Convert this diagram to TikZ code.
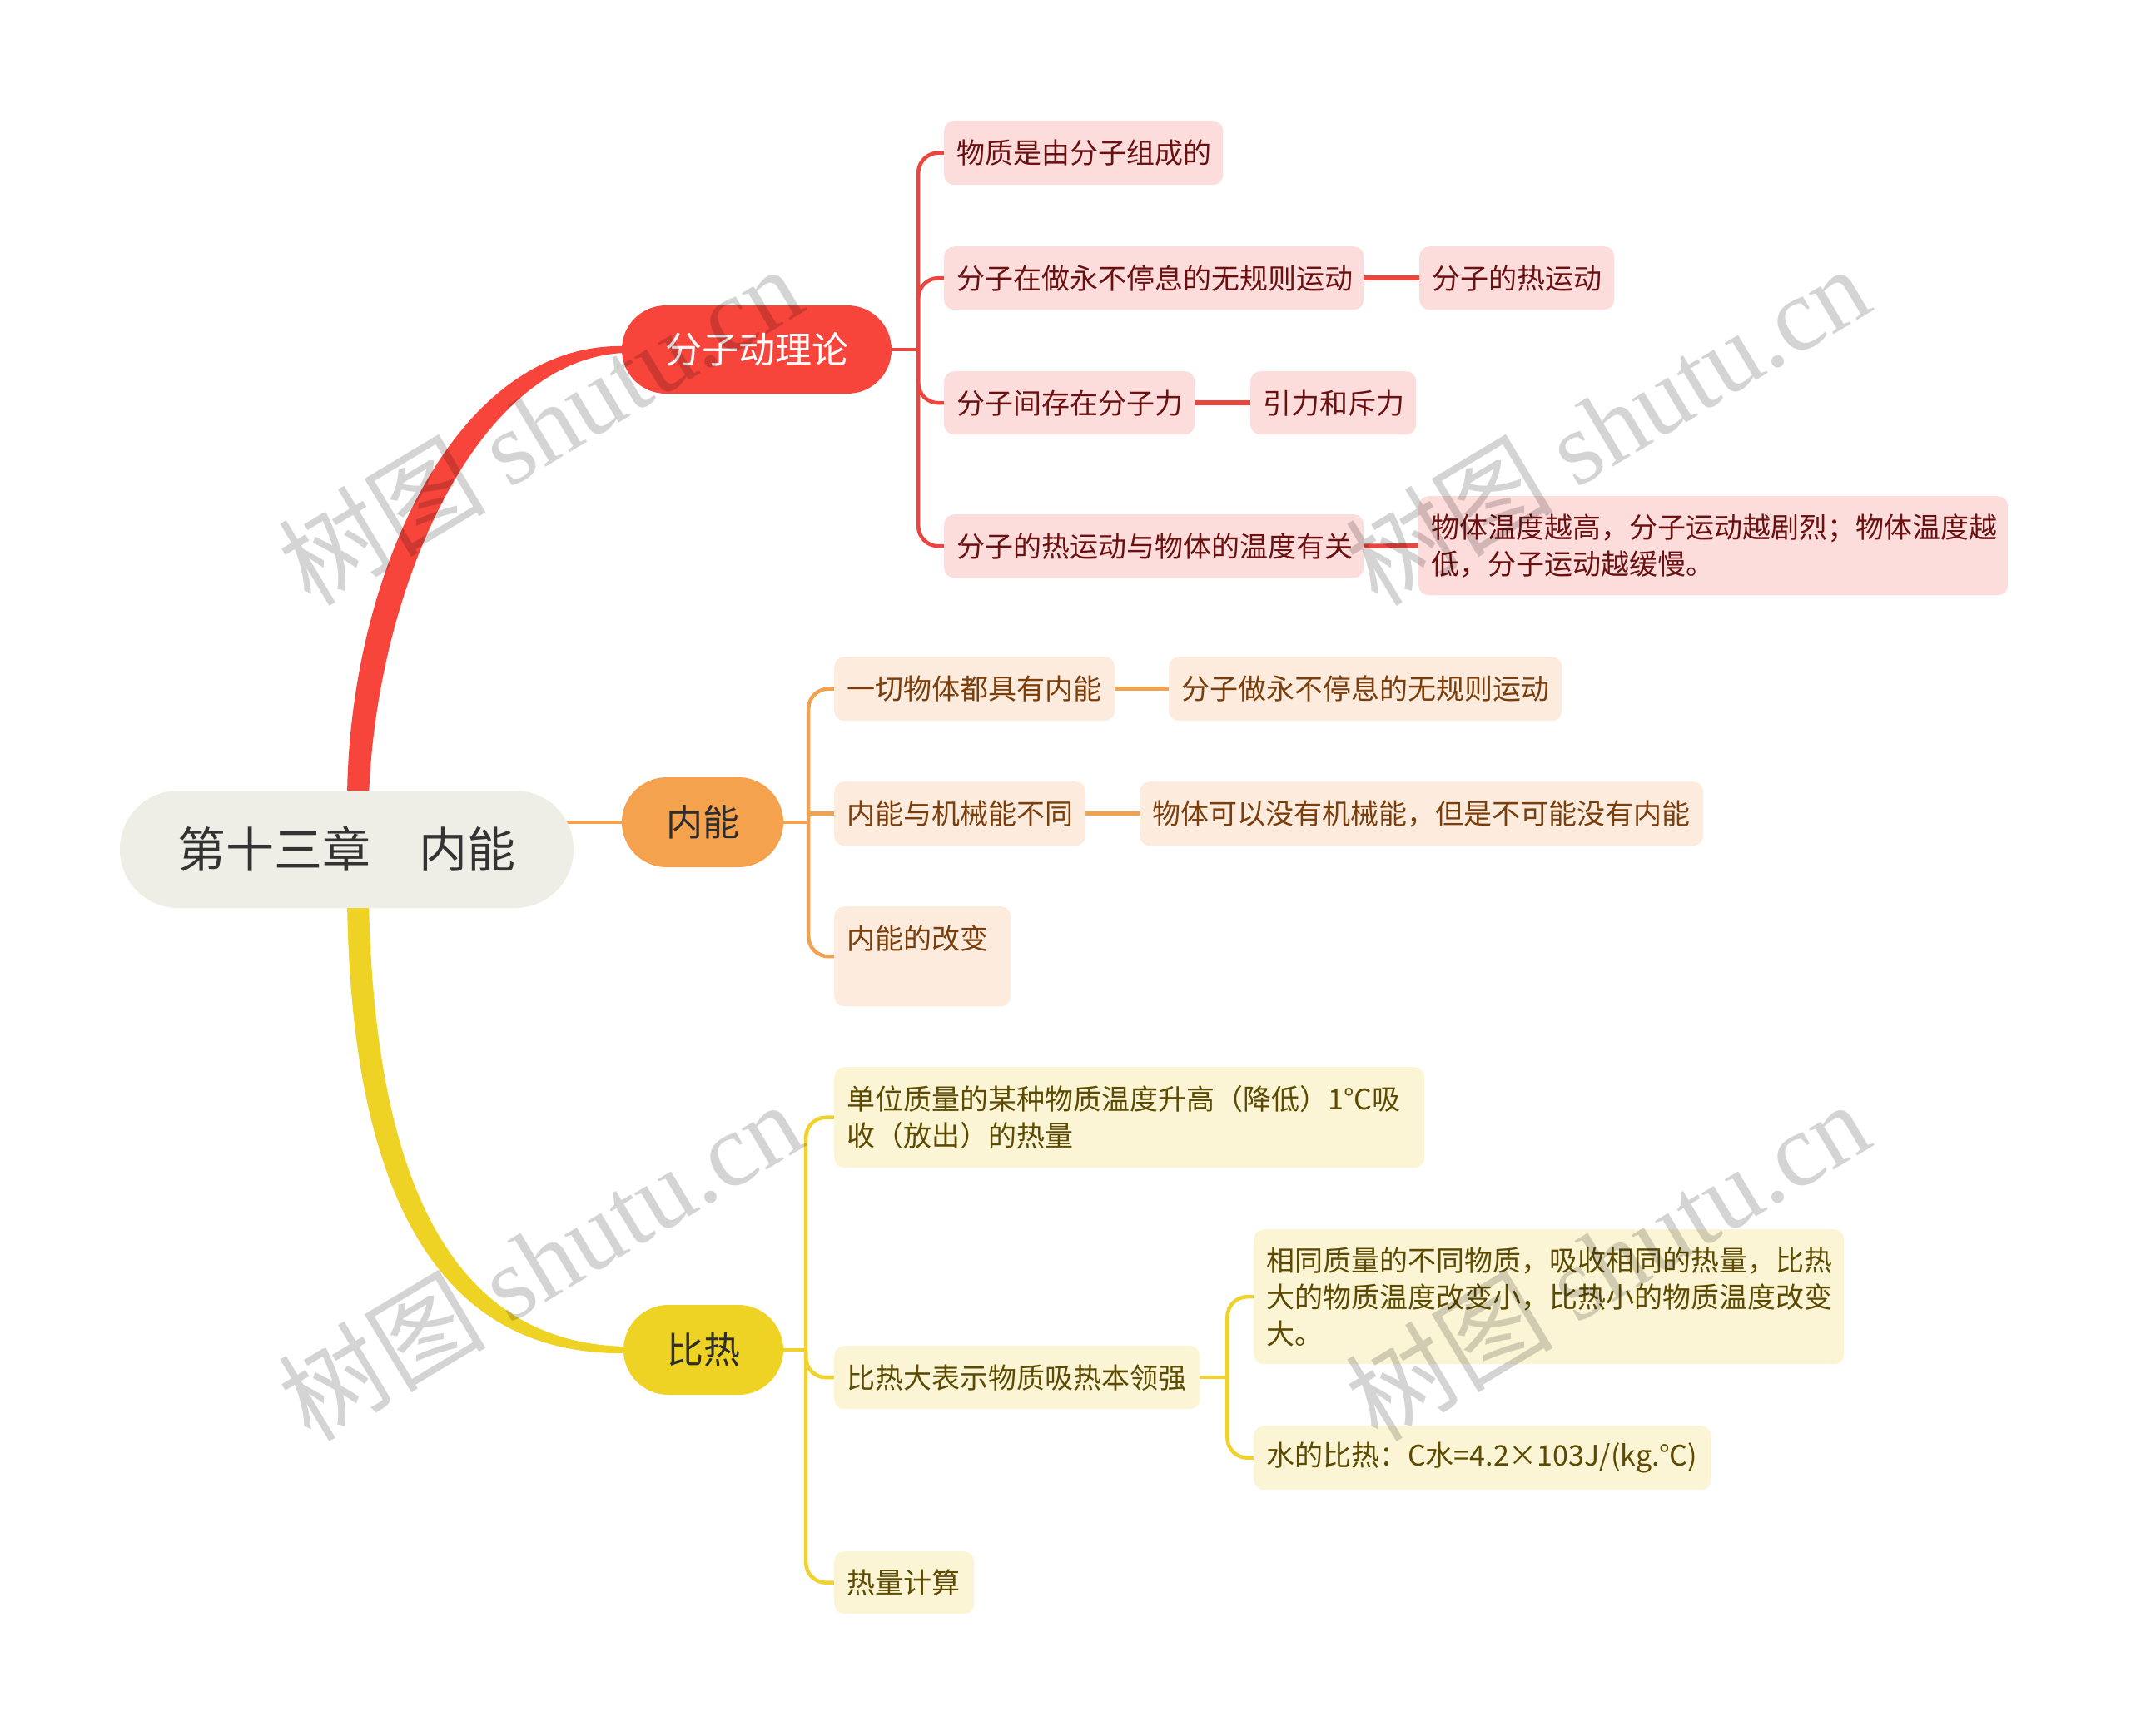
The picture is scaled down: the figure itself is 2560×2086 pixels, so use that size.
\documentclass[tikz,border=0pt]{standalone}
\usepackage{fontspec}
\setmainfont{Liberation Serif}
\newfontfamily\cjk{Noto Sans CJK SC}
\newfontfamily\wmlat{Liberation Serif}
\usetikzlibrary{calc}
\pgfdeclarelayer{bg}
\pgfdeclarelayer{fg}
\pgfsetlayers{bg,main,fg}
\definecolor{rootfill}{HTML}{EFEEE6}
\definecolor{roottext}{HTML}{333333}
\definecolor{redmain}{HTML}{F7453C}
\definecolor{redline}{HTML}{EC453D}
\definecolor{redsub}{HTML}{FDDCDC}
\definecolor{redtext}{HTML}{6B1010}
\definecolor{orgmain}{HTML}{F4A24E}
\definecolor{orgline}{HTML}{F0A250}
\definecolor{orgsub}{HTML}{FDECDD}
\definecolor{orgtext}{HTML}{7A3D0C}
\definecolor{ylwmain}{HTML}{EFD324}
\definecolor{ylwline}{HTML}{EFD22E}
\definecolor{ylwsub}{HTML}{FCF5D5}
\definecolor{ylwtext}{HTML}{5C4A00}
\definecolor{maintext}{HTML}{2D2D2D}
\begin{document}
\begin{tikzpicture}[x=1pt,y=-1pt,
  mainbox/.style={font=\cjk\fontsize{44}{50}\selectfont, inner sep=0pt, anchor=center},
  subbase/.style={rounded corners=12pt, inner xsep=15pt, inner ysep=0pt, align=left, anchor=north west, font=\cjk\fontsize{34}{44}\selectfont},
  rsub/.style={subbase, fill=redsub, text=redtext},
  osub/.style={subbase, fill=orgsub, text=orgtext},
  ysub/.style={subbase, fill=ylwsub, text=ylwtext},
  rconn/.style={draw=redline, line width=4.5pt, rounded corners=24pt},
  oconn/.style={draw=orgline, line width=4.5pt, rounded corners=24pt},
  yconn/.style={draw=ylwline, line width=4.5pt, rounded corners=24pt},
  leaf/.style={line width=5.5pt},
  wm/.style={text=black, text opacity=0.17, rotate=31, inner sep=0pt}
]
\useasboundingbox (0,0) rectangle (2560,2086);
\begin{pgfonlayer}{bg}
\fill[white] (0,0) rectangle (2560,2086);
\end{pgfonlayer}

% root and main topics
\node[mainbox, fill=rootfill, text=roottext, minimum width=545, minimum height=141, rounded corners=70pt, font=\cjk\fontsize{58}{64}\selectfont] (root) at (416.5,1020.5) {第十三章　内能};
\node[mainbox, fill=redmain, text=white, minimum width=324, minimum height=106, rounded corners=53pt] (rm) at (909,420) {分子动理论};
\node[mainbox, fill=orgmain, text=maintext, minimum width=194, minimum height=108, rounded corners=54pt] (om) at (844,988) {内能};
\node[mainbox, fill=ylwmain, text=maintext, minimum width=192, minimum height=108, rounded corners=54pt] (ym) at (845,1622) {比热};

% red subtopics
\node[rsub, minimum width=335, text width=305pt, minimum height=77] (r1) at (1134,145) {物质是由分子组成的};
\node[rsub, minimum width=504, text width=474pt, minimum height=76] (r2) at (1134,296) {分子在做永不停息的无规则运动};
\node[rsub, minimum width=234, text width=204pt, minimum height=76] (r2a) at (1705,296) {分子的热运动};
\node[rsub, minimum width=301, text width=271pt, minimum height=76] (r3) at (1134,446) {分子间存在分子力};
\node[rsub, minimum width=199, text width=169pt, minimum height=76] (r3a) at (1502,446) {引力和斥力};
\node[rsub, minimum width=504, text width=474pt, minimum height=76] (r4) at (1134,618) {分子的热运动与物体的温度有关};
\node[rsub, minimum width=708, text width=678pt, minimum height=119] (r4a) at (1704,596) {物体温度越高，分子运动越剧烈；物体温度越\\低，分子运动越缓慢。};

% orange subtopics
\node[osub, minimum width=337, text width=307pt, minimum height=77] (o1) at (1002,789) {一切物体都具有内能};
\node[osub, minimum width=472, text width=442pt, minimum height=77] (o1a) at (1404,789) {分子做永不停息的无规则运动};
\node[osub, minimum width=302, text width=272pt, minimum height=77] (o2) at (1002,939) {内能与机械能不同};
\node[osub, minimum width=677, text width=647pt, minimum height=77] (o2a) at (1369,939) {物体可以没有机械能，但是不可能没有内能};
\node[osub, minimum width=212, text width=182pt, minimum height=120] (o3) at (1002,1089) {内能的改变\\\phantom{内}};

% yellow subtopics
\node[ysub, minimum width=709, text width=679pt, minimum height=121] (y1) at (1002,1282) {单位质量的某种物质温度升高（降低）1°C吸\\收（放出）的热量};
\node[ysub, minimum width=439, text width=409pt, minimum height=76] (y2) at (1002,1617) {比热大表示物质吸热本领强};
\node[ysub, minimum width=709, text width=679pt, minimum height=162] (y2a) at (1506,1477) {相同质量的不同物质，吸收相同的热量，比热\\大的物质温度改变小，比热小的物质温度改变\\大。};
\node[ysub, minimum width=549, text width=519pt, minimum height=77] (y2b) at (1506,1713) {水的比热：C水=4.2×103J/(kg.℃)};
\node[ysub, minimum width=168, text width=138pt, minimum height=75] (y3) at (1002,1864) {热量计算};

\begin{pgfonlayer}{bg}
% tapered main branches
\fill[redmain] ($(root.north)+(0.5,10)$) .. controls (419,690) and (548,410) .. ($(rm.west)+(4,-4)$)
   -- ($(rm.west)+(4,4)$) .. controls (572,430) and (451,710) .. ($(root.north)+(26.5,10)$) -- cycle;
\fill[ylwmain] ($(root.south)+(0.5,-10)$) .. controls (421,1410) and (512,1630) .. ($(ym.west)+(4,4)$)
   -- ($(ym.west)+(4,-4)$) .. controls (528,1614) and (449,1390) .. ($(root.south)+(26.5,-10)$) -- cycle;
\draw[orgline, line width=4pt] (root.center |- om.west) -- (om.west);

% red branch
\coordinate (rs) at ($(rm.east)+(32,0)$);
\draw[rconn] (rm.east) -- (rs);
\foreach \c in {r1,r2,r3,r4} \draw[rconn] (rs) |- (\c.west);
\draw[rconn, leaf] (r2.east) -- (r2a.west);
\draw[rconn, leaf] (r3.east) -- (r3a.west);
\draw[rconn, leaf] (r4.east) -- (r4a.west);

% orange branch
\coordinate (os) at ($(om.east)+(30,0)$);
\draw[oconn] (om.east) -- (os);
\draw[oconn] (os) |- (o1.west);
\draw[oconn] (os |- o2.west) -- (o2.west);
\draw[oconn] (os) |- (o3.west);
\draw[oconn, leaf] (o1.east) -- (o1a.west);
\draw[oconn, leaf] (o2.east) -- (o2a.west);

% yellow branch
\coordinate (ys) at ($(ym.east)+(27,0)$);
\draw[yconn] (ym.east) -- (ys);
\foreach \c in {y1,y2,y3} \draw[yconn] (ys) |- (\c.west);
\coordinate (y2s) at ($(y2.east)+(33,0)$);
\draw[yconn] (y2.east) -- (y2s);
\draw[yconn] (y2s) |- (y2a.west);
\draw[yconn] (y2s) |- (y2b.west);
\end{pgfonlayer}

% watermarks
\begin{pgfonlayer}{fg}
\node[wm] (w1) at (648,510) {\cjk\fontsize{125}{125}\selectfont 树图 \wmlat shutu.cn};
\node[wm] (w2) at (1930,510) {\cjk\fontsize{125}{125}\selectfont 树图 \wmlat shutu.cn};
\node[wm] (w3) at (648,1514) {\cjk\fontsize{125}{125}\selectfont 树图 \wmlat shutu.cn};
\node[wm] (w4) at (1930,1514) {\cjk\fontsize{125}{125}\selectfont 树图 \wmlat shutu.cn};
\end{pgfonlayer}
\end{tikzpicture}
\end{document}
